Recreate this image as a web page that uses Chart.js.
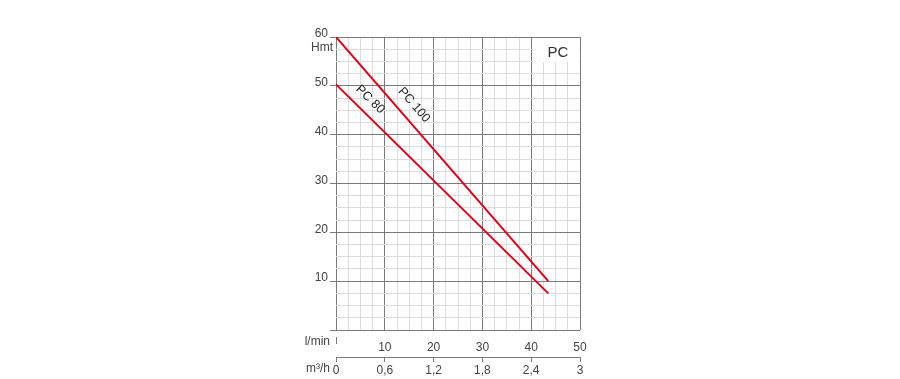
<!DOCTYPE html>
<html>
<head>
<meta charset="utf-8">
<script src="https://cdn.jsdelivr.net/npm/chart.js@4/dist/chart.umd.min.js"></script>
<style>
  html, body { margin: 0; padding: 0; background: #fff; }
  #wrap { width: 900px; height: 379px; position: relative; }
</style>
</head>
<body>
<div id="wrap"><canvas id="c" width="900" height="379"></canvas></div>
<script>
// ---- data ----
const seriesNames = ["PC 100", "PC 80"];
const flowPC100 = [0, 43.5];      // l/min
const headPC100 = [60, 10];       // Hmt
const flowPC80 = [0, 43.5];
const headPC80 = [50.3, 7.5];
const yTickLabels = ["10", "20", "30", "40", "50", "60"];
const lminTickLabels = ["10", "20", "30", "40", "50"];
const m3hTickValues = [0, 0.6, 1.2, 1.8, 2.4, 3];
const m3hTickLabels = ["0", "0,6", "1,2", "1,8", "2,4", "3"];
// label anchor points (data coords) for rotated curve names
const labelPC100 = { x: 16.0, y: 46.1 };
const labelPC80 = { x: 7.0, y: 47.2 };

const RED = '#e2001a';
const MAJOR = '#7a7a7a';
const MINOR = '#dcdcdc';
const TXT = '#444';
const FONT = 'Liberation Sans, Arial, sans-serif';

function isMajor(v) { return Math.abs(v % 10) < 1e-6; }

const decor = {
  id: 'decor',
  beforeDatasetsDraw(chart) {
    const ctx = chart.ctx, a = chart.chartArea;
    // white box behind "PC"
    ctx.save();
    ctx.fillStyle = '#fff';
    ctx.fillRect(a.right - 47, a.top + 1, 46, 24);
    ctx.restore();
  },
  afterDraw(chart) {
    const ctx = chart.ctx, a = chart.chartArea;
    const xs = chart.scales.x, ys = chart.scales.y, x2 = chart.scales.x2;
    ctx.save();
    ctx.fillStyle = TXT;
    ctx.font = '12px ' + FONT;
    ctx.textAlign = 'right';
    ctx.textBaseline = 'middle';
    ctx.fillText('Hmt', a.left - 3, ys.getPixelForValue(60) + 11);
    ctx.fillText('l/min', a.left - 6, a.bottom + 12);
    ctx.fillText('m³/h', a.left - 6, x2.top + 12);
    // small mark under origin
    ctx.strokeStyle = MAJOR;
    ctx.lineWidth = 1;
    const x0 = Math.round(xs.getPixelForValue(0)) + 0.5;
    ctx.beginPath();
    ctx.moveTo(x0, a.bottom + 7);
    ctx.lineTo(x0, a.bottom + 14);
    ctx.stroke();
    // "PC"
    ctx.textAlign = 'center';
    ctx.font = '15px ' + FONT;
    ctx.fillStyle = '#333';
    ctx.fillText('PC', a.right - 22, a.top + 16);
    // rotated curve names
    ctx.font = '12.5px ' + FONT;
    ctx.fillStyle = '#222';
    const names = [[seriesNames[0], labelPC100, 0], [seriesNames[1], labelPC80, 1]];
    names.forEach(([t, p, i]) => {
      const ds = chart.data.datasets[i].data;
      const px1 = xs.getPixelForValue(ds[0].x), py1 = ys.getPixelForValue(ds[0].y);
      const px2 = xs.getPixelForValue(ds[1].x), py2 = ys.getPixelForValue(ds[1].y);
      const ang = Math.atan2(py2 - py1, px2 - px1);
      ctx.save();
      ctx.translate(xs.getPixelForValue(p.x), ys.getPixelForValue(p.y));
      ctx.rotate(ang);
      ctx.fillText(t, 0, 0);
      ctx.restore();
    });
    ctx.restore();
  }
};

new Chart(document.getElementById('c'), {
  type: 'line',
  data: {
    datasets: [
      { label: seriesNames[0], data: flowPC100.map((x, i) => ({ x, y: headPC100[i] })),
        borderColor: RED, borderWidth: 2, pointRadius: 0, tension: 0, fill: false },
      { label: seriesNames[1], data: flowPC80.map((x, i) => ({ x, y: headPC80[i] })),
        borderColor: RED, borderWidth: 2, pointRadius: 0, tension: 0, fill: false }
    ]
  },
  options: {
    responsive: false,
    animation: false,
    events: [],
    layout: { padding: { left: 296, right: 320, top: 37, bottom: 1 } },
    plugins: { legend: { display: false }, tooltip: { enabled: false } },
    scales: {
      x: {
        type: 'linear', position: 'bottom', min: 0, max: 50,
        afterBuildTicks: s => { const t = []; for (let v = 0; v <= 50 + 1e-9; v += 2.5) t.push({ value: v }); s.ticks = t; },
        afterFit: s => { s.height = 27; },
        border: { display: false },
        grid: {
          color: c => isMajor(c.tick.value) ? MAJOR : MINOR,
          lineWidth: 1, drawTicks: false
        },
        ticks: {
          autoSkip: false, maxRotation: 0, padding: 10,
          color: TXT, font: { family: FONT, size: 12 },
          callback: v => (isMajor(v) && v > 0) ? lminTickLabels[v / 10 - 1] : ''
        }
      },
      x2: {
        type: 'linear', position: 'bottom', min: 0, max: 3,
        afterBuildTicks: s => { s.ticks = m3hTickValues.map(v => ({ value: v })); },
        afterFit: s => { s.height = 21; },
        border: { display: true, color: MAJOR, width: 1 },
        grid: { drawOnChartArea: false, color: MAJOR, tickLength: 5 },
        ticks: {
          autoSkip: false, maxRotation: 0, padding: 1,
          color: TXT, font: { family: FONT, size: 12 },
          callback: (v, i) => m3hTickLabels[i]
        }
      },
      y: {
        type: 'linear', position: 'left', min: 0, max: 60,
        afterBuildTicks: s => { const t = []; for (let v = 0; v <= 60 + 1e-9; v += 2.5) t.push({ value: v }); s.ticks = t; },
        afterFit: s => { s.width = 40; },
        border: { display: false },
        grid: {
          color: c => isMajor(c.tick.value) ? MAJOR : MINOR,
          tickColor: c => isMajor(c.tick.value) ? MAJOR : 'rgba(0,0,0,0)',
          tickLength: 6, lineWidth: 1
        },
        ticks: {
          autoSkip: false, padding: 2, labelOffset: -3,
          color: TXT, font: { family: FONT, size: 12 },
          callback: v => (isMajor(v) && v > 0) ? yTickLabels[v / 10 - 1] : ''
        }
      }
    }
  },
  plugins: [decor]
});
</script>
</body>
</html>
